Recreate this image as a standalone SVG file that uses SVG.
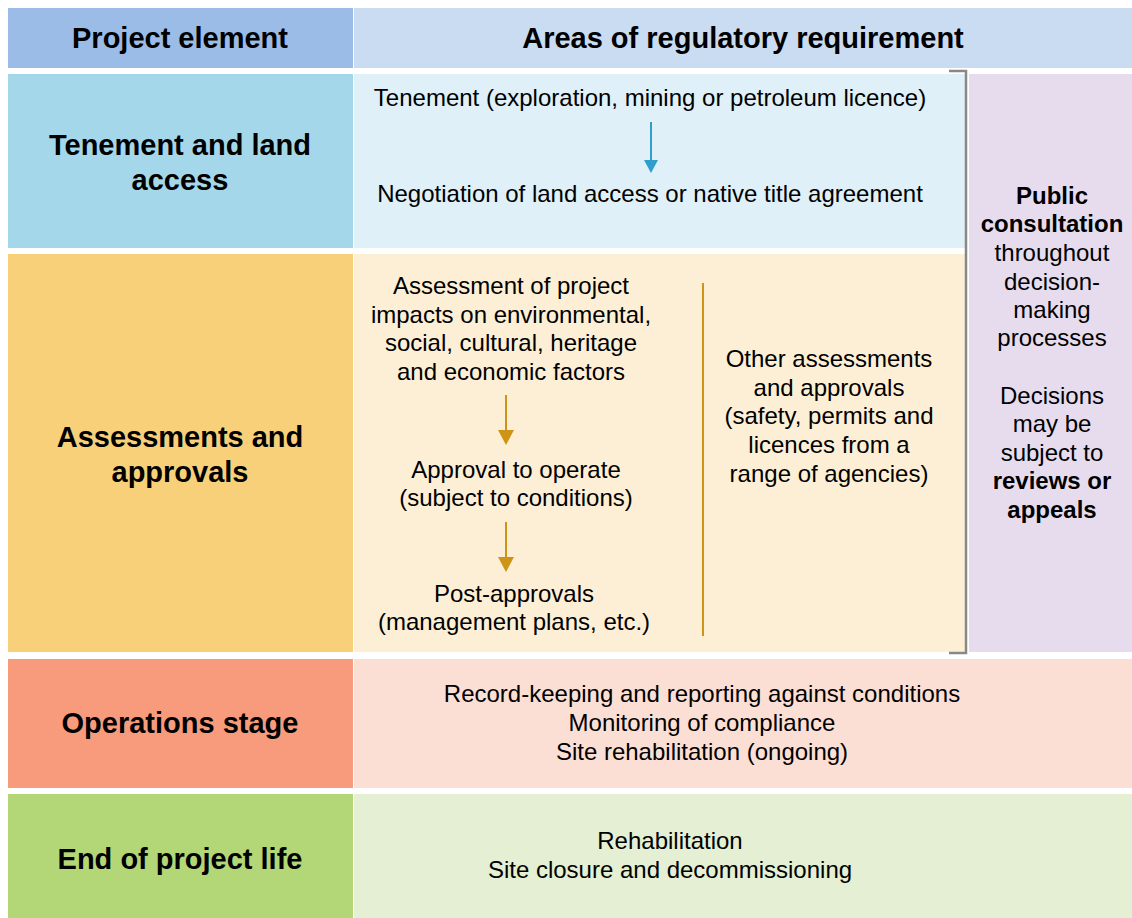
<svg xmlns="http://www.w3.org/2000/svg" width="1132" height="918" viewBox="0 0 1132 918">
<style>
text{font-family:"Liberation Sans",Arial,sans-serif;fill:#000;text-anchor:middle}
.h{font-size:29px;font-weight:bold}
.b{font-size:24px}
.bb{font-weight:bold}
</style>
<defs>
<marker id="ab" viewBox="0 0 13 14" refX="0" refY="7" markerWidth="13" markerHeight="14" markerUnits="userSpaceOnUse" orient="auto"><path d="M0,0 L13,7 L0,14 Z" fill="#2f9ecb"/></marker>
<marker id="ao" viewBox="0 0 15 16" refX="0" refY="8" markerWidth="15" markerHeight="16" markerUnits="userSpaceOnUse" orient="auto"><path d="M0,0 L15,8 L0,16 Z" fill="#cf9415"/></marker>
</defs>
<rect width="1132" height="918" fill="#fff"/>
<g id="header">
<rect x="8" y="8" width="345" height="60" fill="#9bbce6"/>
<rect x="354" y="8" width="778" height="60" fill="#cadcf2"/>
<text class="h" x="180" y="48">Project element</text>
<text class="h" x="743" y="48">Areas of regulatory requirement</text>
</g>
<g id="row-tenement">
<rect x="8" y="74" width="345" height="174" fill="#a5d7ea"/>
<rect x="354" y="74" width="612" height="174" fill="#dff0f8"/>
<text class="h"><tspan x="180" y="155">Tenement and land</tspan><tspan x="180" y="190">access</tspan></text>
<text class="b" x="650" y="106">Tenement (exploration, mining or petroleum licence)</text>
<text class="b" x="650" y="202">Negotiation of land access or native title agreement</text>
</g>
<g id="row-assessments">
<rect x="8" y="254" width="345" height="398" fill="#f8d07a"/>
<rect x="354" y="254" width="612" height="398" fill="#fdefd6"/>
<text class="h"><tspan x="180" y="447">Assessments and</tspan><tspan x="180" y="482">approvals</tspan></text>
<text class="b"><tspan x="511" y="294">Assessment of project</tspan><tspan x="511" y="323">impacts on environmental,</tspan><tspan x="511" y="351">social, cultural, heritage</tspan><tspan x="511" y="380">and economic factors</tspan></text>
<text class="b"><tspan x="516" y="478">Approval to operate</tspan><tspan x="516" y="506">(subject to conditions)</tspan></text>
<text class="b"><tspan x="514" y="602">Post-approvals</tspan><tspan x="514" y="630">(management plans, etc.)</tspan></text>
<text class="b"><tspan x="829" y="367">Other assessments</tspan><tspan x="829" y="396">and approvals</tspan><tspan x="829" y="424">(safety, permits and</tspan><tspan x="829" y="453">licences from a</tspan><tspan x="829" y="482">range of agencies)</tspan></text>
</g>
<g id="public-consultation">
<rect x="969" y="74" width="163" height="578" fill="#e7dcee"/>
<text class="b"><tspan class="bb" x="1052" y="204">Public</tspan><tspan class="bb" x="1052" y="232">consultation</tspan><tspan x="1052" y="261">throughout</tspan><tspan x="1052" y="290">decision-</tspan><tspan x="1052" y="318">making</tspan><tspan x="1052" y="346">processes</tspan><tspan x="1052" y="404">Decisions</tspan><tspan x="1052" y="432">may be</tspan><tspan x="1052" y="461">subject to</tspan><tspan class="bb" x="1052" y="489">reviews or</tspan><tspan class="bb" x="1052" y="518">appeals</tspan></text>
</g>
<g id="row-operations">
<rect x="8" y="659" width="345" height="129" fill="#f79b7c"/>
<rect x="354" y="659" width="778" height="129" fill="#fcdfd4"/>
<text class="h" x="180" y="733">Operations stage</text>
<text class="b"><tspan x="702" y="702">Record-keeping and reporting against conditions</tspan><tspan x="702" y="731">Monitoring of compliance</tspan><tspan x="702" y="760">Site rehabilitation (ongoing)</tspan></text>
</g>
<g id="row-end">
<rect x="8" y="794" width="345" height="124" fill="#b3d677"/>
<rect x="354" y="794" width="778" height="124" fill="#e4efd3"/>
<text class="h" x="180" y="869">End of project life</text>
<text class="b"><tspan x="670" y="849">Rehabilitation</tspan><tspan x="670" y="878">Site closure and decommissioning</tspan></text>
</g>
<g id="connectors">
<line x1="651" y1="122" x2="651" y2="160" stroke="#2f9ecb" stroke-width="2" marker-end="url(#ab)"/>
<line x1="506" y1="395" x2="506" y2="430" stroke="#cf9415" stroke-width="2" marker-end="url(#ao)"/>
<line x1="506" y1="522" x2="506" y2="557" stroke="#cf9415" stroke-width="2" marker-end="url(#ao)"/>
<line x1="703" y1="283" x2="703" y2="636" stroke="#cf9415" stroke-width="2"/>
<path d="M949,71 L966,71 L966,653 L949,653" fill="none" stroke="#888" stroke-width="2.5"/>
</g>
</svg>
